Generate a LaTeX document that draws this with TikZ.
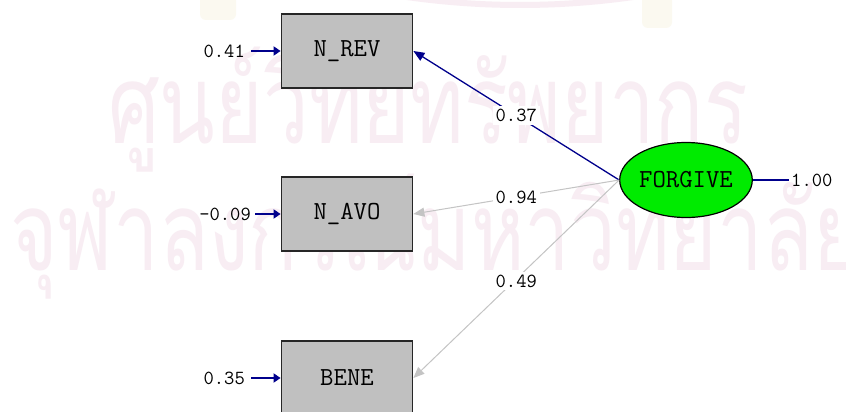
\documentclass[tikz,border=0pt]{standalone}
\usepackage{fontspec}
\newfontfamily\thaifont[Script=Thai]{Loma}
\usetikzlibrary{arrows.meta,shapes.geometric}
\definecolor{navy}{RGB}{0,0,140}
\definecolor{boxgray}{RGB}{192,192,192}
\definecolor{linegray}{RGB}{196,196,196}
\definecolor{lvgreen}{RGB}{0,235,0}
\definecolor{wmark}{RGB}{248,237,243}
\definecolor{wyellow}{RGB}{251,249,240}
\begin{document}
\begin{tikzpicture}[x=1pt,y=-1pt,
  obs/.style={draw=black!85,line width=1.8pt,fill=boxgray,minimum width=131pt,minimum height=74pt,inner sep=0pt,font=\ttfamily\fontsize{26}{26}\selectfont},
  lat/.style={ellipse,draw=black,line width=1.2pt,fill=lvgreen,minimum width=131pt,minimum height=75pt,inner sep=0pt,font=\ttfamily\fontsize{26}{26}\selectfont},
  num/.style={font=\ttfamily\fontsize{20}{20}\selectfont,inner sep=2pt,text=black},
  lab/.style={num,fill=white,inner sep=3pt},
  wm/.style={anchor=base west,inner sep=0pt,text=wmark,font=\thaifont\fontsize{110}{110}\selectfont},
  path/.style={line width=1.3pt},
  tip/.style={-{Triangle[length=11pt,width=9pt]}},
  errarr/.style={navy,line width=2.4pt,-{Triangle[length=7pt,width=9pt]}}
]
\useasboundingbox (0,0) rectangle (846,412);
\fill[white] (0,0) rectangle (846,412);
\clip (0,0) rectangle (846,412);

% faint watermark emblem and text
\draw[wmark,line width=6pt] (400,-4) .. controls (480,8) and (560,8) .. (640,-4);
\fill[wyellow,rounded corners=6pt] (200,-5) rectangle (236,20);
\fill[wyellow,rounded corners=6pt] (642,-5) rectangle (672,28);
\node[wm] (wm1) at (108,143) {\scalebox{0.74}[1]{ศูนย์วิทยทรัพยากร}};
\node[wm] (wm2) at (10,270) {\scalebox{0.74}[1]{จุฬาลงกรณ์มหาวิทยาลัย}};

% nodes
\node[obs] (rev) at (347,51) {N\_REV};
\node[obs] (avo) at (347,214) {N\_AVO};
\node[obs] (bene) at (347,378) {BENE};
\node[lat] (fg) at (686,180) {FORGIVE};

% loadings
\draw[navy,path,tip] (fg.west) -- node[lab] {0.37} (rev.east);
\draw[linegray,line width=1pt,tip] (fg.west) -- node[lab] {0.94} (avo.east);
\draw[linegray,line width=1pt,tip] (fg.west) -- node[lab,pos=0.5,yshift=-2pt] {0.49} (bene.east);

% error terms
\node[num,anchor=east] (e1) at (247,51) {0.41};
\node[num,anchor=east] (e2) at (253,214) {-0.09};
\node[num,anchor=east] (e3) at (247,378) {0.35};
\draw[errarr] ([xshift=4pt]e1.east) -- (rev.west);
\draw[errarr] ([xshift=2pt]e2.east) -- (avo.west);
\draw[errarr] ([xshift=4pt]e3.east) -- (bene.west);

% variance of latent
\node[num,anchor=west] (v) at (789,180) {1.00};
\draw[navy,path] (fg.east) -- (v.west);
\end{tikzpicture}
\end{document}
